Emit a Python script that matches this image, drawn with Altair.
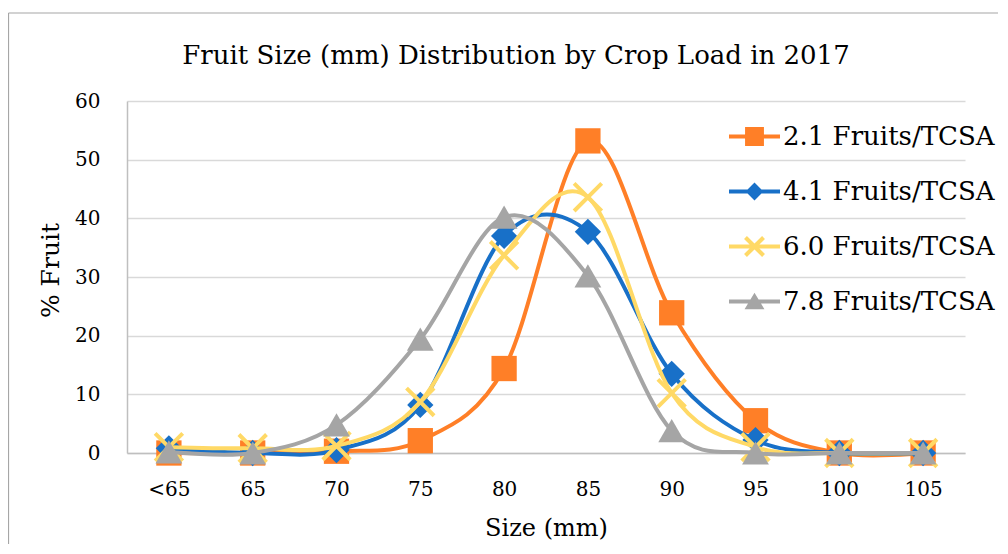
import math
import altair as alt
import pandas as pd

# ---------------- data ----------------
sizes = ["<65", "65", "70", "75", "80", "85", "90", "95", "100", "105"]
series_names = ["2.1 Fruits/TCSA", "4.1 Fruits/TCSA", "6.0 Fruits/TCSA", "7.8 Fruits/TCSA"]
s21 = [0.0, 0.0, 0.3, 2.1, 14.4, 53.2, 23.9, 5.5, 0.0, 0.0]
s41 = [0.8, 0.0, 0.5, 8.2, 37.0, 37.7, 13.5, 2.2, 0.0, 0.0]
s60 = [1.0, 0.8, 1.2, 8.7, 33.7, 43.6, 10.2, 1.0, 0.0, 0.0]
s78 = [0.2, 0.0, 4.8, 19.4, 40.2, 30.2, 3.8, 0.0, 0.0, 0.0]
y_ticks = [0, 10, 20, 30, 40, 50, 60]

colors = ["#FF7F27", "#1870C8", "#FFD966", "#A5A5A5"]

rows = []
for name, vals in zip(series_names, [s21, s41, s60, s78]):
    for s, v in zip(sizes, vals):
        rows.append({"size": s, "pct": v, "series": name})
df = pd.DataFrame(rows)

# ---------------- styles ----------------
FONT = "DejaVu Serif"
W, H = 838, 352
PAD = {"left": 119, "top": 93, "right": 33, "bottom": 91}


def fmt(pts):
    return "M" + "L".join(f"{x:.3f},{y:.3f}" for x, y in pts) + "Z"


lw = 0.078  # legend line half thickness (unit coords)
line_path = f"M-1,{-lw}H1V{lw}H-1Z"
sq = 0.37
square_leg = line_path + f"M{-sq},{-sq}H{sq}V{sq}H{-sq}Z"
dm = 0.35
diamond_leg = line_path + fmt([(0, -dm), (dm, 0), (0, dm), (-dm, 0)])
L, w = 0.5, 0.08
plus = [(-w, -L), (w, -L), (w, -w), (L, -w), (L, w), (w, w), (w, L), (-w, L),
        (-w, w), (-L, w), (-L, -w), (-w, -w)]
r2 = math.sqrt(2)
xshape = [((x - y) / r2, (x + y) / r2) for x, y in plus]
x_leg = line_path + fmt(xshape)
tri_leg = line_path + fmt([(0, -0.34), (0.39, 0.3), (-0.39, 0.3)])
legend_shapes = [square_leg, diamond_leg, x_leg, tri_leg]

color_scale = alt.Scale(domain=series_names, range=colors)

x_enc = alt.X(
    "size:N", sort=sizes, scale=alt.Scale(type="point", padding=0.5),
    axis=alt.Axis(title="Size (mm)", labelAngle=0, ticks=False, grid=False,
                  domainColor="#BFBFBF", domainWidth=1.5,
                  labelFont=FONT, labelFontSize=20, labelColor="black", labelPadding=26,
                  titleFont=FONT, titleFontSize=24, titleFontWeight="normal", titleColor="black",
                  titleY=75, titleBaseline="middle"))
y_enc = alt.Y(
    "pct:Q", scale=alt.Scale(domain=[0, 60], nice=False),
    axis=alt.Axis(title="% Fruit", values=y_ticks, ticks=False, grid=True,
                  gridColor="#D9D9D9", gridWidth=1.5, domainColor="#BFBFBF", domainWidth=1.5,
                  labelFont=FONT, labelFontSize=20, labelColor="black", labelPadding=27,
                  titleFont=FONT, titleFontSize=25, titleFontWeight="normal", titleColor="black",
                  titleX=-77, titleY=169, titleAngle=-90, titleAlign="center",
                  titleBaseline="middle"))

base = alt.Chart(df)
marker_marks = [
    dict(shape="square", filled=True, size=640),
    dict(shape="diamond", filled=True, size=690),
    dict(shape="M-1,-1L1,1M-1,1L1,-1", filled=False, strokeWidth=4, size=760),
    dict(shape="triangle-up", filled=True, size=720),
]

# legend-only layer (invisible points; provides the combined colour/shape legend)
legend = alt.Legend(title=None, orient="none", legendX=602, legendY=10, symbolSize=2601,
                    symbolStrokeWidth=0, symbolOpacity=1, labelFont=FONT, labelFontSize=26,
                    labelColor="black", labelOffset=3, labelLimit=500, rowPadding=16, padding=0)
legend_layer = base.mark_point(filled=True, opacity=0).encode(
    x=x_enc, y=y_enc,
    color=alt.Color("series:N", scale=color_scale, legend=legend),
    shape=alt.Shape("series:N", scale=alt.Scale(domain=series_names, range=legend_shapes),
                    legend=legend),
)

layers = [legend_layer]
for name, col, mk in zip(series_names, colors, marker_marks):
    sub = base.transform_filter(alt.datum.series == name)
    layers.append(sub.mark_line(interpolate="cardinal", tension=0, strokeWidth=4, color=col,
                                strokeCap="round", strokeJoin="round")
                  .encode(x=x_enc, y=y_enc))
    layers.append(sub.mark_point(opacity=1, color=col, **mk).encode(x=x_enc, y=y_enc))

# outer chart frame (top and left edges)
frame_top = alt.Chart(pd.DataFrame({"a": [0]})).mark_rule(color="#A6A6A6", strokeWidth=1.2).encode(
    x=alt.value(-118.5), x2=alt.value(W + PAD["right"]), y=alt.value(-88))
frame_left = alt.Chart(pd.DataFrame({"a": [0]})).mark_rule(color="#A6A6A6", strokeWidth=1.2).encode(
    x=alt.value(-118.5), y=alt.value(-88), y2=alt.value(H + PAD["bottom"]))

chart = alt.layer(*layers, frame_top, frame_left).properties(
    width=W, height=H,
    padding=PAD,
    autosize=alt.AutoSizeParams(type="none"),
    background="white",
    title=alt.TitleParams("Fruit Size (mm) Distribution by Crop Load in 2017", font=FONT,
                          fontSize=26, fontWeight="normal", color="black", anchor="middle",
                          dx=-30, baseline="alphabetic", offset=-78),
).configure_view(stroke=None)

chart.save("out.html", embed_options={"renderer": "svg", "actions": False})
